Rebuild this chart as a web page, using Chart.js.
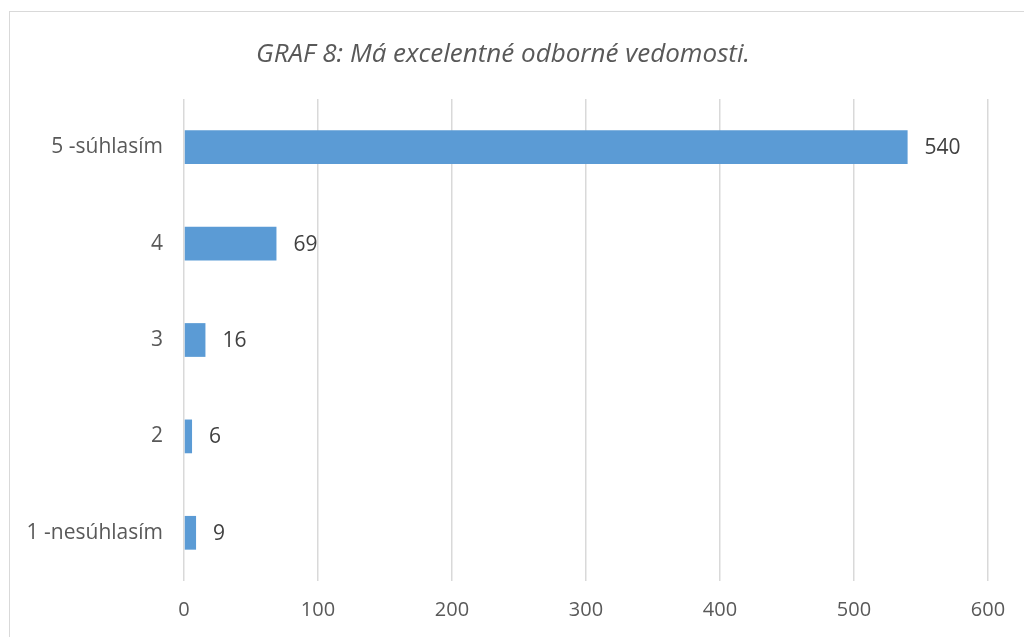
<!DOCTYPE html>
<html>
<head>
<meta charset="utf-8">
<script src="https://cdn.jsdelivr.net/npm/chart.js@4"></script>
<style>
  html, body { margin: 0; padding: 0; background: #fff; }
  #wrap { position: relative; width: 1024px; height: 637px; overflow: hidden; }
  #frame { position: absolute; left: 9px; top: 11px; width: 1100px; height: 700px;
           border: 1px solid #d9d9d9; box-sizing: border-box; pointer-events: none; }
</style>
</head>
<body>
<div id="wrap">
  <canvas id="graf8" width="1024" height="637"></canvas>
  <div id="frame"></div>
</div>
<script>
// ── DATA ──
const titleText = 'GRAF 8: Má excelentné odborné vedomosti.';
const categories = ['5 -súhlasím', '4', '3', '2', '1 -nesúhlasím'];
const counts = [540, 69, 16, 6, 9];
const xTicks = [0, 100, 200, 300, 400, 500, 600];

const FONT = "'Open Sans', sans-serif";
const TEXT = '#595959';

// title + hodnoty vedla stlpcov
const labelsPlugin = {
    id: 'graf8Labels',
    afterDatasetsDraw(chart) {
        const ctx = chart.ctx;
        ctx.save();
        ctx.fillStyle = TEXT;
        ctx.font = `italic 26px ${FONT}`;
        ctx.textAlign = 'center';
        ctx.textBaseline = 'middle';
        ctx.fillText(titleText, 503, 55);

        ctx.fillStyle = '#404040';
        ctx.font = `21px ${FONT}`;
        ctx.textAlign = 'left';
        const meta = chart.getDatasetMeta(0);
        meta.data.forEach((bar, i) => {
            ctx.fillText(String(counts[i]), bar.x + 17, bar.y + 1);
        });
        ctx.restore();
    }
};

new Chart(document.getElementById('graf8'), {
    type: 'bar',
    data: {
        labels: categories,
        datasets: [{
            data: counts,
            backgroundColor: '#5b9bd5',
            borderWidth: 0,
            categoryPercentage: 1,
            barPercentage: 0.35
        }]
    },
    options: {
        indexAxis: 'y',
        responsive: false,
        animation: false,
        layout: { padding: { top: 99, right: 36, bottom: 0, left: 0 } },
        plugins: { legend: { display: false }, tooltip: { enabled: false } },
        scales: {
            x: {
                min: 0,
                max: 600,
                afterBuildTicks(scale) { scale.ticks = xTicks.map(v => ({ value: v })); },
                afterFit(scale) { scale.height = 56; },
                grid: { color: '#d9d9d9', lineWidth: 1.5, drawTicks: false },
                border: { display: false },
                ticks: { color: TEXT, font: { family: FONT, size: 20 }, padding: 17 }
            },
            y: {
                afterFit(scale) { scale.width = 184; },
                grid: { display: false, drawTicks: false },
                border: { display: false },
                ticks: { color: TEXT, font: { family: FONT, size: 21 }, padding: 21 }
            }
        }
    },
    plugins: [labelsPlugin]
});
</script>
</body>
</html>
